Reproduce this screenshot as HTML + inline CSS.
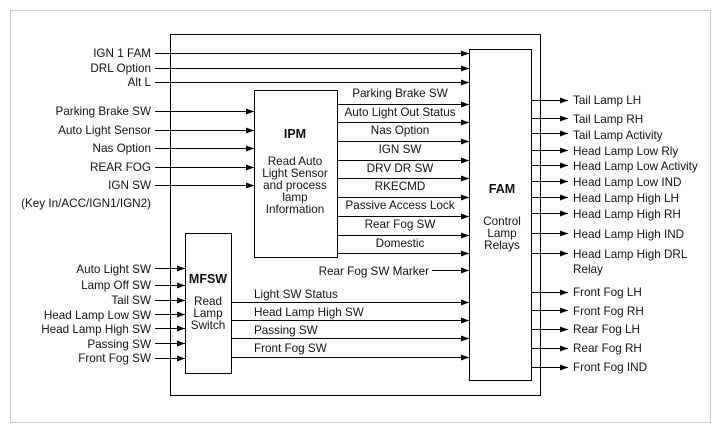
<!DOCTYPE html>
<html><head><meta charset="utf-8"><style>
html,body{margin:0;padding:0;background:#fff;}
svg{display:block;}
text{font-family:"Liberation Sans",Arial,sans-serif;font-size:11.7px;fill:#111;}
.b{font-weight:bold;font-size:12.5px;}
</style></head><body>
<svg width="720" height="432" viewBox="0 0 720 432" xmlns="http://www.w3.org/2000/svg">
<defs><marker id="a" markerWidth="8" markerHeight="6" refX="8" refY="3" orient="auto" markerUnits="userSpaceOnUse"><path d="M0,0 L8,3 L0,6 z" fill="#000"/></marker></defs>
<rect x="10.5" y="10.5" width="700" height="412" fill="none" stroke="#999" stroke-dasharray="1,1"/>
<g fill="none" stroke="#000" stroke-width="1">
<rect x="170.5" y="34.5" width="370" height="361"/>
<rect x="469.5" y="49.5" width="62" height="331"/>
<rect x="254.5" y="90.5" width="83" height="167"/>
<rect x="185.5" y="233.5" width="46" height="140"/>
</g>
<g stroke="#000" stroke-width="1" marker-end="url(#a)">
<line x1="155" y1="53.5" x2="469" y2="53.5"/>
<line x1="155" y1="68.5" x2="469" y2="68.5"/>
<line x1="155" y1="82.5" x2="469" y2="82.5"/>
<line x1="155" y1="111.5" x2="254" y2="111.5"/>
<line x1="155" y1="130.5" x2="254" y2="130.5"/>
<line x1="155" y1="148.5" x2="254" y2="148.5"/>
<line x1="155" y1="167.5" x2="254" y2="167.5"/>
<line x1="155" y1="185.5" x2="254" y2="185.5"/>
<line x1="338" y1="104.5" x2="469" y2="104.5"/>
<line x1="338" y1="122.5" x2="469" y2="122.5"/>
<line x1="338" y1="141.5" x2="469" y2="141.5"/>
<line x1="338" y1="160.5" x2="469" y2="160.5"/>
<line x1="338" y1="178.5" x2="469" y2="178.5"/>
<line x1="338" y1="197.5" x2="469" y2="197.5"/>
<line x1="338" y1="216.5" x2="469" y2="216.5"/>
<line x1="338" y1="235.5" x2="469" y2="235.5"/>
<line x1="338" y1="253.5" x2="469" y2="253.5"/>
<line x1="432" y1="270.5" x2="469" y2="270.5"/>
<line x1="155" y1="268.5" x2="185" y2="268.5"/>
<line x1="155" y1="285.5" x2="185" y2="285.5"/>
<line x1="155" y1="300.5" x2="185" y2="300.5"/>
<line x1="155" y1="314.5" x2="185" y2="314.5"/>
<line x1="155" y1="328.5" x2="185" y2="328.5"/>
<line x1="155" y1="343.5" x2="185" y2="343.5"/>
<line x1="155" y1="358.5" x2="185" y2="358.5"/>
<line x1="232" y1="302.5" x2="469" y2="302.5"/>
<line x1="232" y1="320.5" x2="469" y2="320.5"/>
<line x1="232" y1="338.5" x2="469" y2="338.5"/>
<line x1="232" y1="357.5" x2="469" y2="357.5"/>
<line x1="532" y1="100.5" x2="568" y2="100.5"/>
<line x1="532" y1="118.5" x2="568" y2="118.5"/>
<line x1="532" y1="133.5" x2="568" y2="133.5"/>
<line x1="532" y1="150.5" x2="568" y2="150.5"/>
<line x1="532" y1="165.5" x2="568" y2="165.5"/>
<line x1="532" y1="181.5" x2="568" y2="181.5"/>
<line x1="532" y1="197.5" x2="568" y2="197.5"/>
<line x1="532" y1="213.5" x2="568" y2="213.5"/>
<line x1="532" y1="233.5" x2="568" y2="233.5"/>
<line x1="532" y1="253.5" x2="568" y2="253.5"/>
<line x1="532" y1="292.5" x2="568" y2="292.5"/>
<line x1="532" y1="310.5" x2="568" y2="310.5"/>
<line x1="532" y1="329.5" x2="568" y2="329.5"/>
<line x1="532" y1="348.5" x2="568" y2="348.5"/>
<line x1="532" y1="367.5" x2="568" y2="367.5"/>
</g>
<g text-anchor="end">
<text x="151" y="57">IGN 1 FAM</text>
<text x="151" y="72">DRL Option</text>
<text x="151" y="86">Alt L</text>
<text x="151" y="115">Parking Brake SW</text>
<text x="151" y="134">Auto Light Sensor</text>
<text x="151" y="152">Nas Option</text>
<text x="151" y="171">REAR FOG</text>
<text x="151" y="189">IGN SW</text>
<text x="151" y="207">(Key In/ACC/IGN1/IGN2)</text>
<text x="151" y="273">Auto Light SW</text>
<text x="151" y="289">Lamp Off SW</text>
<text x="151" y="304">Tail SW</text>
<text x="151" y="319">Head Lamp Low SW</text>
<text x="151" y="333">Head Lamp High SW</text>
<text x="151" y="348">Passing SW</text>
<text x="151" y="362">Front Fog SW</text>
<text x="429" y="275">Rear Fog SW Marker</text>
</g>
<g text-anchor="middle">
<text x="400" y="97">Parking Brake SW</text>
<text x="400" y="116">Auto Light Out Status</text>
<text x="400" y="134">Nas Option</text>
<text x="400" y="153">IGN SW</text>
<text x="400" y="172">DRV DR SW</text>
<text x="400" y="190">RKECMD</text>
<text x="400" y="209">Passive Access Lock</text>
<text x="400" y="228">Rear Fog SW</text>
<text x="400" y="247">Domestic</text>
<text x="295" y="138" class="b">IPM</text>
<text x="295" y="165">Read Auto</text>
<text x="295" y="177">Light Sensor</text>
<text x="295" y="189">and process</text>
<text x="295" y="201">lamp</text>
<text x="295" y="213">Information</text>
<text x="208" y="283" class="b">MFSW</text>
<text x="208" y="305">Read</text>
<text x="208" y="317">Lamp</text>
<text x="208" y="329">Switch</text>
<text x="502" y="193" class="b">FAM</text>
<text x="502" y="225">Control</text>
<text x="502" y="237">Lamp</text>
<text x="502" y="249">Relays</text>
</g>
<g>
<text x="254" y="298">Light SW Status</text>
<text x="254" y="316">Head Lamp High SW</text>
<text x="254" y="334">Passing SW</text>
<text x="254" y="352">Front Fog SW</text>
<text x="573" y="104">Tail Lamp LH</text>
<text x="573" y="123">Tail Lamp RH</text>
<text x="573" y="139">Tail Lamp Activity</text>
<text x="573" y="155">Head Lamp Low Rly</text>
<text x="573" y="170">Head Lamp Low Activity</text>
<text x="573" y="186">Head Lamp Low IND</text>
<text x="573" y="202">Head Lamp High LH</text>
<text x="573" y="218">Head Lamp High RH</text>
<text x="573" y="238">Head Lamp High IND</text>
<text x="573" y="258">Head Lamp High DRL</text>
<text x="573" y="273">Relay</text>
<text x="573" y="296">Front Fog LH</text>
<text x="573" y="315">Front Fog RH</text>
<text x="573" y="333">Rear Fog LH</text>
<text x="573" y="352">Rear Fog RH</text>
<text x="573" y="371">Front Fog IND</text>
</g>
</svg>
</body></html>
